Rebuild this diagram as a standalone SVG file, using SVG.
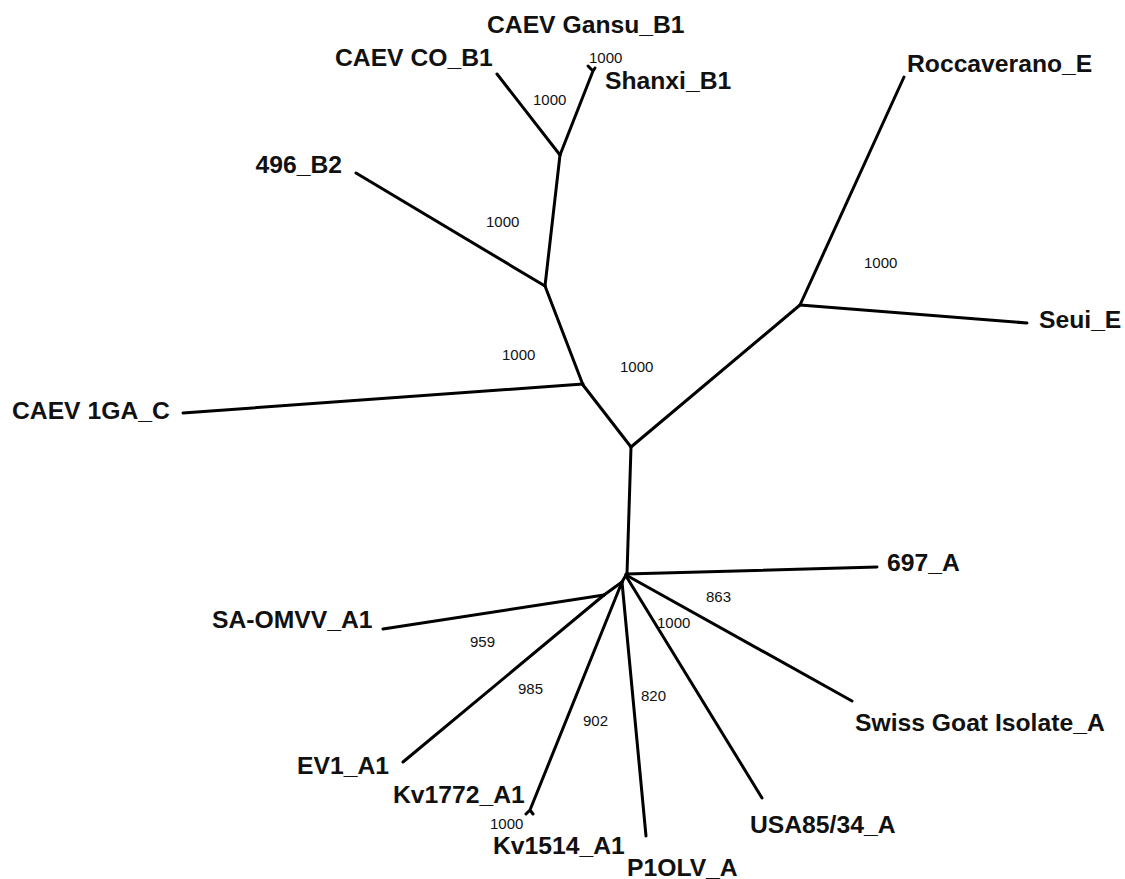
<svg xmlns="http://www.w3.org/2000/svg" width="1125" height="879" viewBox="0 0 1125 879">
  <style>
    .edge { fill: none; stroke: #000; stroke-width: 3; stroke-linecap: round; stroke-linejoin: round; }
    .taxon { font-family: "Liberation Sans", Arial, sans-serif; font-weight: bold; font-size: 24.7px; fill: #111; }
    .boot { font-family: "Liberation Sans", Arial, sans-serif; font-size: 15px; fill: #111; }
  </style>
  <rect width="1125" height="879" fill="#fff"/>

  <!-- tree branches -->
  <g id="connectors" class="edge">
    <!-- B1/B2 clade -->
    <path d="M560,155 L497,74"/>
    <path d="M560,155 L593,71 M593,71 L588,66 M593,71 L595,68"/>
    <path d="M560,155 L545,286"/>
    <path d="M356,173 L545,286"/>
    <path d="M545,286 L583,385"/>
    <!-- C -->
    <path d="M183,413 L583,384"/>
    <path d="M583,385 L631,447"/>
    <!-- E clade -->
    <path d="M631,447 L800,305"/>
    <path d="M800,305 L904,77"/>
    <path d="M800,305 L1027,323"/>
    <!-- trunk to A clade -->
    <path d="M631,447 L627,574"/>
    <path d="M626,574 L877,567"/>
    <path d="M626,575 L852,701"/>
    <path d="M626,576 L762,798"/>
    <path d="M626,575 L622,582"/>
    <path d="M622,582 L646,836"/>
    <path d="M622,582 L530,810 M530,810 L526,814 M530,810 L533,814"/>
    <path d="M622,582 L604,595"/>
    <path d="M604,595 L383,629"/>
    <path d="M604,595 L403,762"/>
  </g>

  <!-- taxa -->
  <g id="gansu"><text class="taxon" x="487" y="33">CAEV Gansu_B1</text></g>
  <g id="co"><text class="taxon" x="335" y="66">CAEV CO_B1</text></g>
  <g id="shanxi"><text class="taxon" x="605" y="89">Shanxi_B1</text></g>
  <g id="b2-496"><text class="taxon" x="342" y="173" text-anchor="end">496_B2</text></g>
  <g id="c-1ga"><text class="taxon" x="12" y="419">CAEV 1GA_C</text></g>
  <g id="roccaverano"><text class="taxon" x="907" y="72">Roccaverano_E</text></g>
  <g id="seui"><text class="taxon" x="1039" y="328">Seui_E</text></g>
  <g id="a-697"><text class="taxon" x="887" y="571">697_A</text></g>
  <g id="swiss"><text class="taxon" x="855" y="731">Swiss Goat Isolate_A</text></g>
  <g id="usa"><text class="taxon" x="750" y="833">USA85/34_A</text></g>
  <g id="p1olv"><text class="taxon" x="627" y="876">P1OLV_A</text></g>
  <g id="kv1514"><text class="taxon" x="493" y="854">Kv1514_A1</text></g>
  <g id="kv1772"><text class="taxon" x="393" y="803">Kv1772_A1</text></g>
  <g id="ev1"><text class="taxon" x="297" y="774">EV1_A1</text></g>
  <g id="sa-omvv"><text class="taxon" x="212" y="628">SA-OMVV_A1</text></g>

  <!-- bootstrap support values -->
  <g id="bootstrap" class="boot">
    <text x="589" y="63">1000</text>
    <text x="533" y="105">1000</text>
    <text x="486" y="227">1000</text>
    <text x="502" y="360">1000</text>
    <text x="620" y="372">1000</text>
    <text x="864" y="268">1000</text>
    <text x="706" y="602">863</text>
    <text x="657" y="628">1000</text>
    <text x="641" y="701">820</text>
    <text x="583" y="726">902</text>
    <text x="518" y="694">985</text>
    <text x="470" y="647">959</text>
    <text x="490" y="829">1000</text>
  </g>
</svg>
